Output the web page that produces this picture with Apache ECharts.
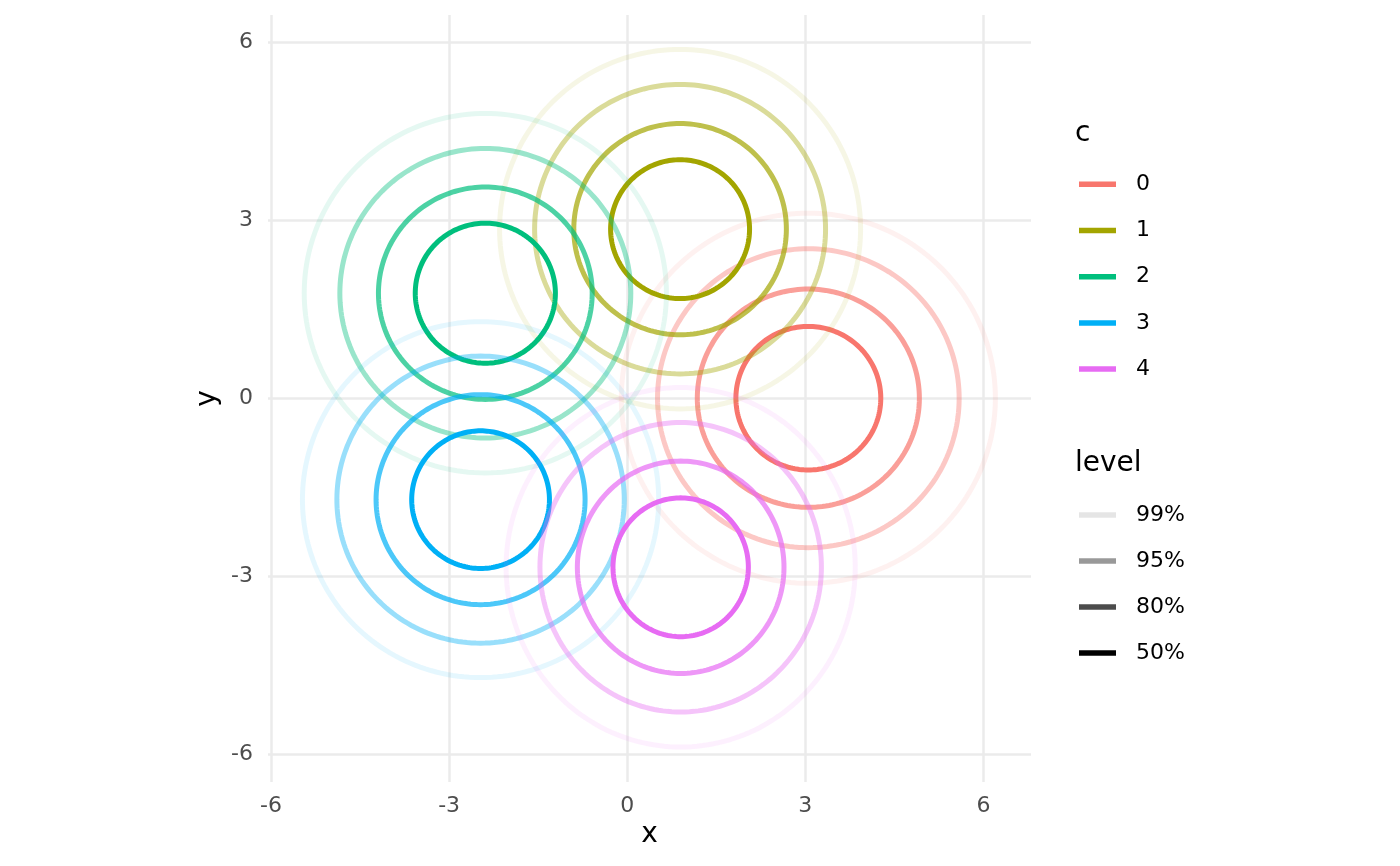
<!DOCTYPE html>
<html><head><meta charset="utf-8">
<script src="https://cdn.jsdelivr.net/npm/echarts@6/dist/echarts.min.js"></script>
<style>html,body{margin:0;padding:0;background:#fff}#chart{width:1400px;height:866px}</style>
</head><body><div id="chart"></div>
<script>
// ---- data ----
const groups = ['0', '1', '2', '3', '4'];
const groupColors = ['#F8766D', '#A3A500', '#00BF7D', '#00B0F6', '#E76BF3'];
const levels = ['99%', '95%', '80%', '50%'];
const levelAlpha = [0.1, 0.4, 0.7, 1.0];
const centerX = [3.05, 0.89, -2.39, -2.47, 0.90];
const centerY = [0.00, 2.85, 1.77, -1.71, -2.85];
// radii per group, per level (99%, 95%, 80%, 50%)
const radiusX0 = [3.15, 2.54, 1.87, 1.22];
const radiusX1 = [3.04, 2.45, 1.79, 1.17];
const radiusX2 = [3.05, 2.45, 1.80, 1.18];
const radiusX3 = [3.00, 2.42, 1.76, 1.16];
const radiusX4 = [2.94, 2.37, 1.74, 1.14];
const radiusY0 = [3.12, 2.52, 1.84, 1.21];
const radiusY1 = [3.03, 2.44, 1.78, 1.17];
const radiusY2 = [3.03, 2.44, 1.79, 1.18];
const radiusY3 = [3.00, 2.42, 1.77, 1.16];
const radiusY4 = [3.03, 2.44, 1.79, 1.17];
const radiusX = [radiusX0, radiusX1, radiusX2, radiusX3, radiusX4];
const radiusY = [radiusY0, radiusY1, radiusY2, radiusY3, radiusY4];
const xTicks = [-6, -3, 0, 3, 6];
const yTicks = [-6, -3, 0, 3, 6];
const xTitle = 'x';
const yTitle = 'y';
const legendTitle1 = 'c';
const legendTitle2 = 'level';

// ---- chart ----
const FONT = 'DejaVu Sans';
function rgba(hex, a) {
  const r = parseInt(hex.slice(1, 3), 16), g = parseInt(hex.slice(3, 5), 16), b = parseInt(hex.slice(5, 7), 16);
  return 'rgba(' + r + ',' + g + ',' + b + ',' + a + ')';
}
const chart = echarts.init(document.getElementById('chart'), null, {renderer: 'canvas'});

const series = groups.map((g, gi) => ({
  type: 'custom',
  name: g,
  coordinateSystem: 'cartesian2d',
  silent: true,
  animation: false,
  clip: false,
  encode: {x: 0, y: 1},
  data: levels.map((lv, li) => [centerX[gi], centerY[gi], radiusX[gi][li], radiusY[gi][li], li]),
  renderItem: function (params, api) {
    const cx = api.value(0), cy = api.value(1), rx = api.value(2), ry = api.value(3), li = api.value(4);
    const pts = [];
    const N = 200;
    for (let k = 0; k < N; k++) {
      const t = 2 * Math.PI * k / N;
      pts.push(api.coord([cx + rx * Math.cos(t), cy + ry * Math.sin(t)]));
    }
    return {
      type: 'polygon',
      shape: {points: pts},
      style: {fill: 'none', stroke: rgba(groupColors[gi], levelAlpha[li]), lineWidth: 5}
    };
  }
}));

const GL = 268, GT = 15, GW = 763, GH = 767;
const graphics = [];
// axis titles
graphics.push({type: 'text', x: GL + GW / 2, y: 835, style: {text: xTitle, font: '28px "DejaVu Sans"', fill: '#000', textAlign: 'center', textVerticalAlign: 'middle'}});
graphics.push({type: 'text', x: 208, y: GT + GH / 2, rotation: Math.PI / 2, style: {text: yTitle, font: '28px "DejaVu Sans"', fill: '#000', textAlign: 'center', textVerticalAlign: 'middle'}});
// legend 1
graphics.push({type: 'text', x: 1075, y: 134, style: {text: legendTitle1, font: '28px "DejaVu Sans"', fill: '#000', textVerticalAlign: 'middle'}});
groups.forEach((g, gi) => {
  const y = 184.3 + gi * 46.2;
  graphics.push({type: 'line', shape: {x1: 1079, y1: y, x2: 1116, y2: y}, style: {stroke: groupColors[gi], lineWidth: 5.5}});
  graphics.push({type: 'text', x: 1136, y: y, style: {text: g, font: '22px "DejaVu Sans"', fill: '#000', textVerticalAlign: 'middle'}});
});
// legend 2
graphics.push({type: 'text', x: 1075, y: 464, style: {text: legendTitle2, font: '28px "DejaVu Sans"', fill: '#000', textVerticalAlign: 'middle'}});
levels.forEach((lv, li) => {
  const y = 515 + li * 46;
  graphics.push({type: 'line', shape: {x1: 1079, y1: y, x2: 1116, y2: y}, style: {stroke: rgba('#000000', levelAlpha[li]), lineWidth: 5.5}});
  graphics.push({type: 'text', x: 1136, y: y, style: {text: lv, font: '22px "DejaVu Sans"', fill: '#000', textVerticalAlign: 'middle'}});
});

const axisCommon = {
  type: 'value',
  axisLine: {show: false},
  splitLine: {show: true, lineStyle: {color: '#EBEBEB', width: 2.5}},
};

chart.setOption({
  animation: false,
  backgroundColor: '#ffffff',
  grid: {left: GL, top: GT, width: GW, height: GH, containLabel: false},
  xAxis: Object.assign({}, axisCommon, {
    min: -6.05, max: 6.80,
    axisTick: {show: false, customValues: xTicks},
    axisLabel: {customValues: xTicks, color: '#4D4D4D', fontSize: 22, fontFamily: FONT, margin: 13}
  }),
  yAxis: Object.assign({}, axisCommon, {
    min: -6.47, max: 6.46,
    axisTick: {show: false, customValues: yTicks},
    axisLabel: {customValues: yTicks, color: '#4D4D4D', fontSize: 22, fontFamily: FONT, margin: 15}
  }),
  series: series,
  graphic: graphics
});
</script>
</body></html>
